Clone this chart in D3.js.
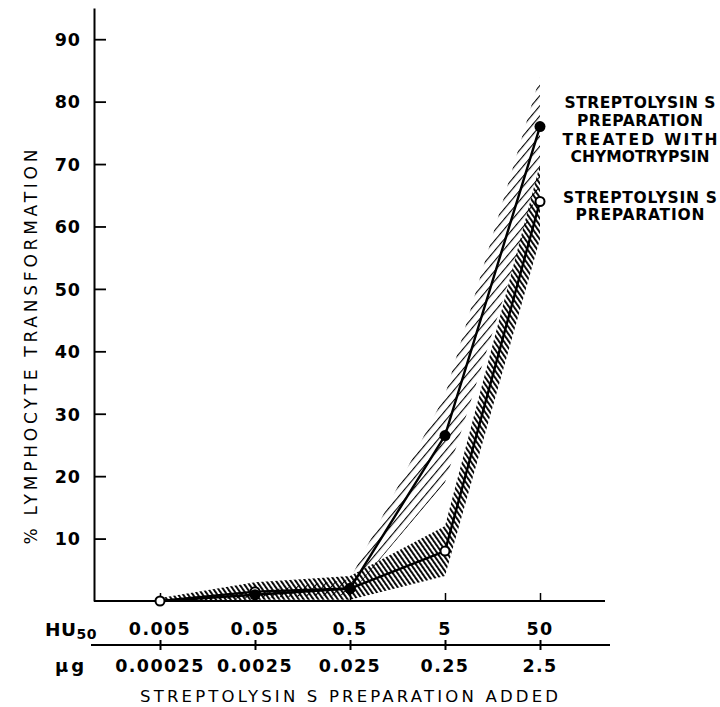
<!DOCTYPE html>
<html>
<head>
<meta charset="utf-8">
<script src="https://cdn.jsdelivr.net/npm/d3@7"></script>
<style>
  html, body { margin: 0; padding: 0; background: #fff; }
  svg { display: block; }
  text { font-family: "DejaVu Sans", sans-serif; fill: #000; }
</style>
</head>
<body>
<svg id="chart" width="720" height="707"></svg>
<script>
// ---- data ----
const huValues = [0.005, 0.05, 0.5, 5, 50];
const huLabels = ["0.005", "0.05", "0.5", "5", "50"];
const ugLabels = ["0.00025", "0.0025", "0.025", "0.25", "2.5"];
const yTicks = [10, 20, 30, 40, 50, 60, 70, 80, 90];

const treated = [0, 1, 2, 26.5, 76];
const treatedLow = [0, 0.5, 1, 19, 67];
const treatedHigh = [0, 1.5, 3.5, 33, 84];

const untreated = [0, 1.5, 2, 8, 64];
const untreatedLow = [0, 0.2, 0.2, 4, 58];
const untreatedHigh = [0.5, 3, 4, 12, 70];

const legendTreated = ["STREPTOLYSIN S", "PREPARATION", "TREATED  WITH", "CHYMOTRYPSIN"];
const legendUntreated = ["STREPTOLYSIN S", "PREPARATION"];

// ---- setup ----
const svg = d3.select("#chart");
const x = d3.scaleLog().domain([0.005, 50]).range([160, 540]);
const y = d3.scaleLinear().domain([0, 95]).range([601, 8]);

const defs = svg.append("defs");
defs.append("pattern")
  .attr("id", "hatchA").attr("patternUnits", "userSpaceOnUse")
  .attr("width", 6.5).attr("height", 6.5)
  .attr("patternTransform", "rotate(40)")
  .append("line").attr("x1", 0).attr("y1", 0).attr("x2", 0).attr("y2", 6.5)
  .attr("stroke", "#000").attr("stroke-width", 2.2);
defs.append("pattern")
  .attr("id", "hatchB").attr("patternUnits", "userSpaceOnUse")
  .attr("width", 4).attr("height", 4)
  .attr("patternTransform", "rotate(-35)")
  .append("rect").attr("x", 0).attr("y", 0).attr("width", 1.9).attr("height", 4)
  .attr("fill", "#000");

const area = d3.area()
  .x(d => x(d.x)).y0(d => y(d.lo)).y1(d => y(d.hi));

const tBand = huValues.map((v, i) => ({ x: v, lo: treatedLow[i], hi: treatedHigh[i] }));
const uBand = huValues.map((v, i) => ({ x: v, lo: untreatedLow[i], hi: untreatedHigh[i] }));

svg.append("path").datum(tBand).attr("d", area).attr("fill", "url(#hatchA)");
svg.append("path").datum(uBand).attr("d", area).attr("fill", "url(#hatchB)");

// ---- axes ----
const yAxis = d3.axisLeft(y).tickValues(yTicks).tickSizeInner(-12).tickSizeOuter(0).tickPadding(13);
const gy = svg.append("g").attr("transform", "translate(94,0)").call(yAxis);
gy.select(".domain").attr("stroke-width", 2);
gy.selectAll(".tick line").attr("stroke-width", 1.8);
gy.selectAll(".tick text").style("font-family", "DejaVu Sans").style("font-size", "17.5px")
  .style("font-weight", "bold").style("letter-spacing", "1px").attr("dy", "0.36em");

// bottom axis line
svg.append("line").attr("x1", 94).attr("x2", 605).attr("y1", y(0)).attr("y2", y(0))
  .attr("stroke", "#000").attr("stroke-width", 2);
const gxTop = svg.append("g").attr("transform", `translate(0,${y(0)})`)
  .call(d3.axisTop(x).tickValues(huValues).tickSizeInner(8).tickSizeOuter(0).tickFormat(""));
gxTop.select(".domain").remove();
gxTop.selectAll(".tick line").attr("stroke-width", 1.5);

// second (dose) axis
const axisY2 = 645;
svg.append("line").attr("x1", 91).attr("x2", 610).attr("y1", axisY2).attr("y2", axisY2)
  .attr("stroke", "#000").attr("stroke-width", 2);
const g2a = svg.append("g").attr("transform", `translate(0,${axisY2})`)
  .call(d3.axisBottom(x).tickValues(huValues).tickSizeInner(5).tickSizeOuter(0).tickFormat(""));
const g2b = svg.append("g").attr("transform", `translate(0,${axisY2})`)
  .call(d3.axisTop(x).tickValues(huValues).tickSizeInner(5).tickSizeOuter(0).tickFormat(""));
[g2a, g2b].forEach(g => { g.select(".domain").remove(); g.selectAll(".tick line").attr("stroke-width", 2); });

svg.append("g").selectAll("text").data(huValues).join("text")
  .attr("x", d => x(d)).attr("y", 635).attr("text-anchor", "middle")
  .style("font-size", "17.5px").style("font-weight", "bold").style("letter-spacing", "1.4px")
  .text((d, i) => huLabels[i]);
svg.append("g").selectAll("text").data(huValues).join("text")
  .attr("x", d => x(d)).attr("y", 672).attr("text-anchor", "middle")
  .style("font-size", "17.5px").style("font-weight", "bold").style("letter-spacing", "1.4px")
  .text((d, i) => ugLabels[i]);

const hu = svg.append("text").attr("x", 45).attr("y", 636).style("font-size", "18.5px")
  .style("font-weight", "bold").style("letter-spacing", "0.5px");
hu.append("tspan").text("HU");
hu.append("tspan").attr("dy", 3).style("font-size", "14px").text("50");
svg.append("text").attr("x", 55).attr("y", 672).style("font-size", "18px").style("font-weight", "bold")
  .style("letter-spacing", "3px").text("μg");

// axis titles
svg.append("text").attr("x", 349).attr("y", 702).attr("text-anchor", "middle")
  .style("font-size", "16.5px").attr("textLength", 418).attr("lengthAdjust", "spacing")
  .text("STREPTOLYSIN S PREPARATION ADDED");
svg.append("text").attr("transform", "translate(37,347) rotate(-90)").attr("text-anchor", "middle")
  .style("font-size", "17px").attr("textLength", 395).attr("lengthAdjust", "spacing")
  .text("% LYMPHOCYTE TRANSFORMATION");

// ---- lines and markers ----
const line = d3.line().x(d => x(d.x)).y(d => y(d.v));
const tPts = huValues.map((v, i) => ({ x: v, v: treated[i] }));
const uPts = huValues.map((v, i) => ({ x: v, v: untreated[i] }));
svg.append("path").datum(uPts).attr("d", line).attr("fill", "none").attr("stroke", "#000").attr("stroke-width", 2.4);
svg.append("path").datum(tPts).attr("d", line).attr("fill", "none").attr("stroke", "#000").attr("stroke-width", 2.4);

svg.append("g").selectAll("circle").data(uPts).join("circle")
  .attr("cx", d => x(d.x)).attr("cy", d => y(d.v)).attr("r", 4.5)
  .attr("fill", "#fff").attr("stroke", "#000").attr("stroke-width", 2);
svg.append("g").selectAll("circle").data(tPts.slice(1)).join("circle")
  .attr("cx", d => x(d.x)).attr("cy", d => y(d.v)).attr("r", 5.5)
  .attr("fill", "#000");

// ---- legend labels ----
const legendWidthsA = [151, 126, 155, 139];
const legendBaseA = [108, 126, 145, 162];
svg.append("g").selectAll("text").data(legendTreated).join("text")
  .attr("x", 640).attr("y", (d, i) => legendBaseA[i]).attr("text-anchor", "middle")
  .style("font-size", "15.5px").style("font-weight", "bold")
  .attr("textLength", (d, i) => legendWidthsA[i]).attr("lengthAdjust", "spacing")
  .text(d => d);
const legendWidthsB = [154, 129];
const legendBaseB = [203, 220];
svg.append("g").selectAll("text").data(legendUntreated).join("text")
  .attr("x", 640).attr("y", (d, i) => legendBaseB[i]).attr("text-anchor", "middle")
  .style("font-size", "15.5px").style("font-weight", "bold")
  .attr("textLength", (d, i) => legendWidthsB[i]).attr("lengthAdjust", "spacing")
  .text(d => d);
</script>
</body>
</html>
